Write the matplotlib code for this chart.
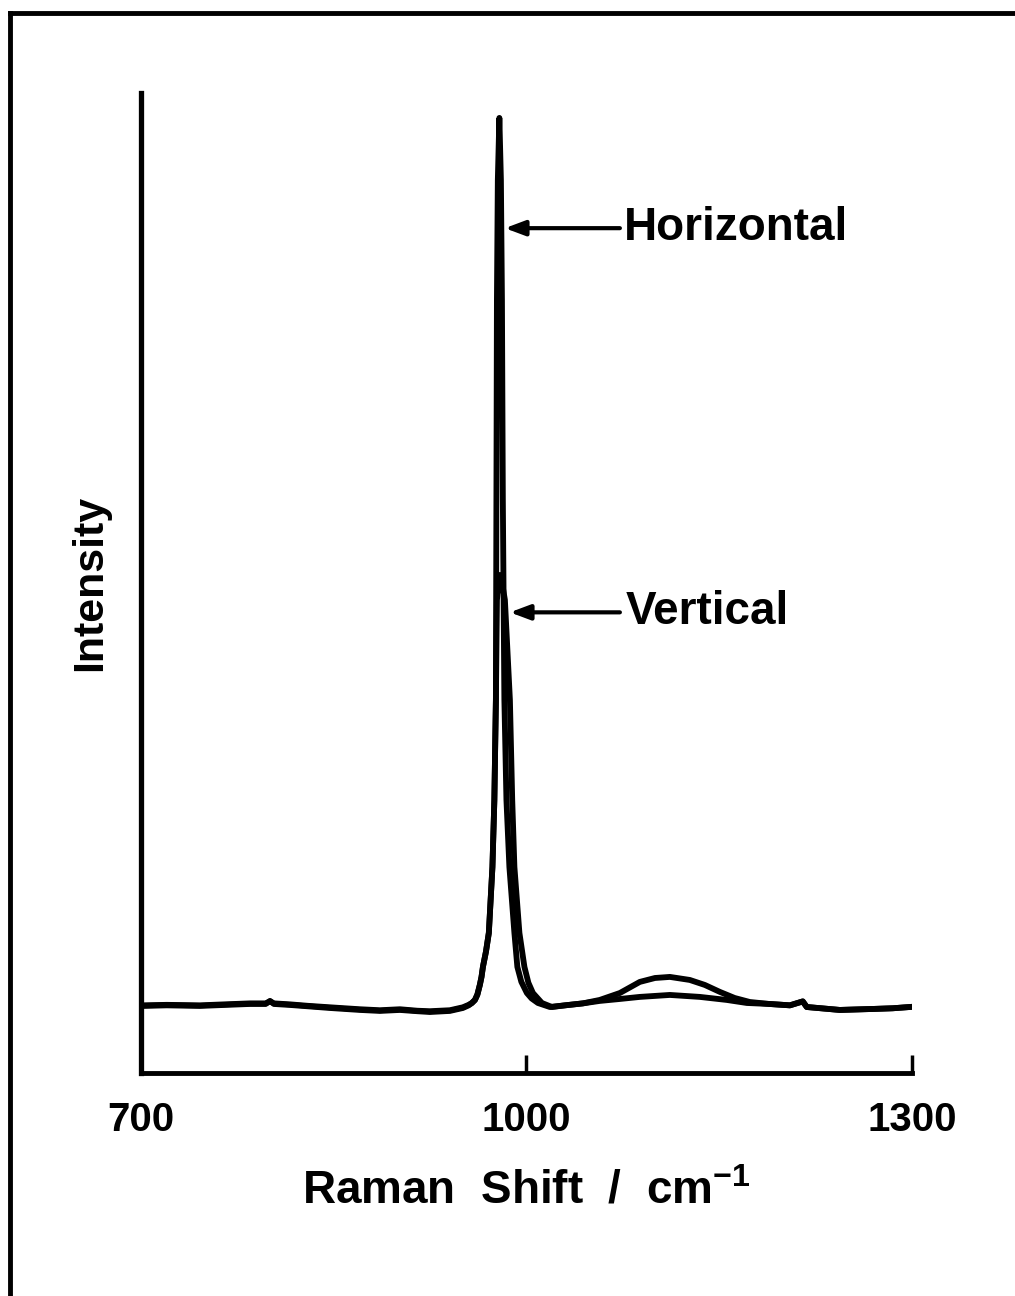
import matplotlib
matplotlib.use("Agg")
import matplotlib.pyplot as plt
from matplotlib.lines import Line2D

plt.rcParams['font.family'] = ['Liberation Sans', 'DejaVu Sans']
plt.rcParams['font.weight'] = 'bold'
plt.rcParams['mathtext.fontset'] = 'custom'
plt.rcParams['mathtext.rm'] = 'Liberation Sans:bold'
plt.rcParams['mathtext.bf'] = 'Liberation Sans:bold'
plt.rcParams['mathtext.default'] = 'bf'

# Raman shift (cm-1) and intensity (arb. units)
shift_h = [701.6, 720, 745.9, 765, 784.8, 797.0, 800.4, 803.5, 815.9, 830, 847.0,
           870.4, 885.9, 901.5, 915, 924.8, 940.4, 950.5, 955.0, 957.5, 959.9,
           961.8, 963.7, 965.0, 966.1, 968.5, 970.7, 973.5, 975.0, 976.2, 976.6,
           977.0, 977.7, 978.9, 980.1, 980.9, 981.6, 982.8, 984.4, 986.7, 990.6,
           992.9, 996.0, 1000.3, 1004.0, 1008.9, 1018.2,
           1030, 1043.9, 1057, 1072.7, 1088.2, 1100, 1111.6, 1127.1, 1138.8, 1150.5,
           1162.0, 1173.8, 1189, 1205, 1215, 1218.1, 1243.8, 1269.5, 1285, 1298.3]
intensity_h = [6.84, 6.9, 6.84, 6.94, 7.04, 7.04, 7.35, 7.04, 6.94, 6.8, 6.63,
               6.43, 6.33, 6.43, 6.3, 6.22, 6.33, 6.63, 6.9, 7.14, 7.45,
               8.0, 8.98, 9.8, 10.82, 12.4, 14.29, 21.02, 27.86, 38.06, 58.47,
               78.88, 91.12, 97.45, 91.12, 78.88, 58.47, 38.06, 27.86, 21.02, 14.29,
               10.82, 9.3, 8.16, 7.6, 7.14, 6.73,
               6.9, 7.1, 7.45, 8.16, 9.29, 9.69, 9.8, 9.49, 8.98, 8.27,
               7.65, 7.24, 7.04, 6.9, 7.3, 6.73, 6.43, 6.53, 6.6, 6.73]

shift_v = [701.6, 720, 745.9, 765, 784.8, 797.0, 800.4, 803.5, 815.9, 830, 847.0,
           870.4, 885.9, 901.5, 915, 924.8, 940.4, 950.5, 955.0, 957.5, 959.9,
           961.8, 963.7, 965.0, 966.1, 968.5, 970.7, 973.5, 975.0, 976.2, 977.0,
           979.3, 981.0, 983.2, 987.1, 988.9, 990.6, 994.5, 998.4, 1001.5, 1005.0,
           1012.0, 1019.8, 1030, 1043.9, 1057,
           1072.7, 1088.2, 1111.6, 1134.9, 1155.9, 1171.5, 1189, 1205, 1215, 1218.1,
           1243.8, 1269.5, 1285, 1298.3]
intensity_v = [6.9, 6.95, 6.9, 7.0, 7.1, 7.1, 7.3, 7.1, 7.0, 6.85, 6.7,
               6.5, 6.4, 6.5, 6.35, 6.3, 6.4, 6.7, 6.95, 7.14, 7.45,
               8.0, 8.98, 9.8, 10.82, 12.4, 14.29, 21.02, 27.86, 38.06, 48.27,
               50.82, 50.0, 48.27, 38.06, 27.86, 21.02, 14.29, 10.82, 9.2, 8.16,
               7.14, 6.73, 6.9, 7.1, 7.35,
               7.55, 7.76, 7.96, 7.76, 7.45, 7.14, 7.04, 6.9, 7.3, 6.73,
               6.43, 6.53, 6.6, 6.73]

x_ticks = [700, 1000, 1300]

fig = plt.figure(figsize=(10.15, 12.96), dpi=100)
ax = fig.add_axes([0.1389, 0.1721, 0.7596, 0.7562])

ax.plot(shift_h, intensity_h, color='black', lw=4.2, solid_joinstyle='round')
ax.plot(shift_v, intensity_v, color='black', lw=4.2, solid_joinstyle='round')

ax.set_xlim(700, 1300)
ax.set_ylim(0, 100)

ax.spines['top'].set_visible(False)
ax.spines['right'].set_visible(False)
ax.spines['left'].set_linewidth(3.8)
ax.spines['bottom'].set_linewidth(3.5)

ax.set_xticks(x_ticks)
ax.set_xticklabels([str(t) for t in x_ticks])
ax.tick_params(axis='x', direction='in', length=13, width=2.5, pad=20,
               labelsize=29)
ax.set_yticks([])

ax.set_xlabel('Raman  Shift  /  cm$^{-1}$', fontsize=33, fontweight='bold',
              labelpad=22)
ax.set_ylabel('Intensity', fontsize=31, fontweight='bold', labelpad=22)

# arrows pointing at the two peaks
arrow_kw = dict(arrowstyle='-|>,head_length=1.2,head_width=0.45',
                color='black', lw=3, shrinkA=0, shrinkB=0)
ax.annotate('', xy=(983.2, 86.2), xytext=(1072.7, 86.2), arrowprops=arrow_kw)
ax.text(1075.5, 86.2, 'Horizontal', fontsize=33, fontweight='bold',
        ha='left', va='center')
ax.annotate('', xy=(987.1, 47.0), xytext=(1072.7, 47.0), arrowprops=arrow_kw)
ax.text(1077.5, 47.0, 'Vertical', fontsize=33, fontweight='bold',
        ha='left', va='center')

# page frame
fig.add_artist(Line2D([0.0099, 0.0099], [0.0, 0.990], transform=fig.transFigure,
                      color='black', lw=3.5))
fig.add_artist(Line2D([0.0099, 1.0], [0.990, 0.990], transform=fig.transFigure,
                      color='black', lw=3.5))

fig.savefig('out.png', dpi=100)
